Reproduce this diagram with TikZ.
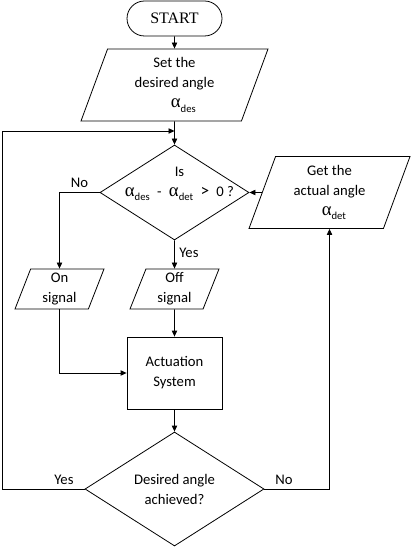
\documentclass[tikz,border=0pt]{standalone}
\usepackage{fontspec}
\usepackage{amsmath}
\setmainfont{Carlito}
\newfontfamily\startfont{Liberation Serif}
\usetikzlibrary{arrows.meta, shapes.geometric, shapes.misc}

% angle symbol with a small subscript
\newcommand{\angsub}[1]{{\startfont\fontsize{14}{15}\selectfont α}\raisebox{-0.6ex}{\fontsize{8}{8}\selectfont #1}}

\begin{document}
\begin{tikzpicture}[
    x=0.75pt, y=-0.75pt,
    >={Triangle[length=4.5pt,width=4pt]},
    every node/.style={font=\fontsize{11}{15}\selectfont, align=center},
    every path/.style={line width=0.6pt},
    terminal/.style={rounded rectangle, draw, minimum width=71.25pt, minimum height=26.25pt, inner sep=0pt},
    io/.style={trapezium, trapezium left angle=64, trapezium right angle=116,
               trapezium stretches body, draw, inner sep=0pt},
    process/.style={rectangle, draw, minimum width=71.25pt, minimum height=54pt, inner sep=0pt},
    decision/.style={diamond, draw, inner sep=0pt}
]
\useasboundingbox (0,0) rectangle (413,548);

% Main column
\node[terminal, font=\startfont\fontsize{12}{14}\selectfont] (start) at (174.5, 18.5) {START};
\node[io, minimum width=140.25pt, minimum height=54pt] (set) at (174.5, 85)
    {Set the\\desired angle\\\hspace{1.2em}\angsub{des}};
\node[decision, minimum width=111.75pt, minimum height=71.25pt] (test) at (174.5, 192.5) {};
\node (testtxt) at (179.5, 184)
    {Is\\\angsub{des}\enspace-\enspace\angsub{det}\enspace{\fontsize{13}{15}\selectfont >}\enspace 0 ?};

\node[io, minimum width=66.75pt, minimum height=30pt] (on)  at (59.5, 289)  {On\\signal};
\node[io, minimum width=66.75pt, minimum height=30pt] (off) at (174.5, 289) {Off\\signal};

\node[process] (act) at (174.5, 373) {Actuation\\System};

\node[decision, minimum width=134.25pt, minimum height=85.5pt] (check) at (174.5, 489) {};
\node (checktxt) at (174.5, 489) {Desired angle\\achieved?};

% Feedback side
\node[io, minimum width=120.75pt, minimum height=54pt] (get) at (329.5, 192.5)
    {Get the\\actual angle\\\hspace{0.6em}\angsub{det}};

\coordinate (loop) at (174.5, 131);
\coordinate (rail) at (2, 489);

% Connectors
\draw[->] (start) -- (set);
\draw[->] (set) -- (test);
\draw[->] (test) -- node[right, pos=0.45] {Yes} (off);
\draw[->] (test.west) -| node[above, pos=0.25] {No} (on.north);
\draw[->] (off) -- (act);
\draw[->] (on.south) |- (act.west);
\draw[->] (act) -- (check);
\draw[->] (get.west) -- (test.east);
\draw[->] (check.east) -| node[above, pos=0.15] {No} (get.south);
\draw[->] (check.west) -- node[above, pos=0.25] {Yes} (rail) |- (loop);

\end{tikzpicture}
\end{document}
